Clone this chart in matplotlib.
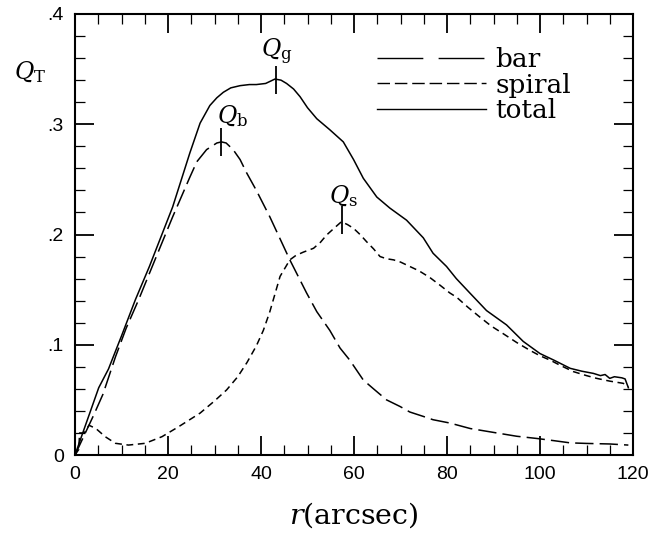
import matplotlib
matplotlib.use("Agg")
import matplotlib.pyplot as plt
from matplotlib.lines import Line2D
from matplotlib.ticker import MultipleLocator, FixedLocator, FixedFormatter

plt.rcParams['mathtext.fontset'] = 'dejavuserif'

# ---- data ----
r_total = [0, 2, 5.1, 7.2, 10, 13, 16, 21, 24.7, 26.9, 29, 30.5, 31.9, 33.5, 35.5, 37.5,
           39, 41, 43, 44.3, 45.5, 47, 48.4, 50, 52, 54.8, 57.7, 59.9, 62, 64.9, 67.7,
           71.3, 74.9, 77, 79.9, 82, 84.9, 88.5, 92.8, 96.4, 100, 103, 106.5, 109, 111.5,
           113, 114, 115, 116, 117.6, 118.3, 119]
q_total = [0, 0.024, 0.061, 0.078, 0.108, 0.141, 0.171, 0.225, 0.274, 0.301, 0.317,
           0.324, 0.329, 0.333, 0.335, 0.336, 0.336, 0.337, 0.341, 0.340, 0.337, 0.332,
           0.325, 0.315, 0.305, 0.295, 0.284, 0.268, 0.251, 0.234, 0.224, 0.213, 0.197,
           0.183, 0.171, 0.160, 0.147, 0.131, 0.118, 0.103, 0.092, 0.086, 0.0786, 0.076,
           0.074, 0.072, 0.073, 0.0695, 0.071, 0.070, 0.069, 0.061]

r_bar = [0, 2, 4, 6, 8.7, 11, 13.7, 17, 21, 24.7, 26.2, 28.3, 30.5, 31.5, 32.5, 34, 35.5,
         36.9, 39, 41.9, 44, 46.2, 49.8, 52, 54.8, 57, 59.1, 62, 64.2, 67, 69.9, 72,
         74.9, 77, 80.6, 85, 90.7, 95, 99.3, 103, 106.5, 110, 115, 119]
q_bar = [0, 0.018, 0.036, 0.055, 0.089, 0.115, 0.141, 0.175, 0.216, 0.252, 0.266, 0.277,
         0.283, 0.284, 0.283, 0.277, 0.268, 0.256, 0.240, 0.216, 0.197, 0.177, 0.147,
         0.130, 0.113, 0.097, 0.086, 0.068, 0.060, 0.050, 0.044, 0.039, 0.035, 0.032,
         0.029, 0.024, 0.020, 0.017, 0.015, 0.013, 0.011, 0.0105, 0.010, 0.009]

r_spiral = [0, 0.8, 1.0, 2.0, 3.0, 4.5, 6.5, 8.7, 11.5, 15.1, 18.7, 22.3, 26.9, 30,
            32.6, 35, 37, 39, 40.5, 41.9, 44.1, 46.2, 47.5, 49.1, 51.3, 52.8, 54.1, 55.8,
            57.3, 58.6, 59.9, 61.3, 62.7, 64.2, 65.6, 67, 68.5, 70, 72, 74, 76.3, 78.5,
            80.6, 82.1, 84.5, 87.1, 89.5, 92.1, 95, 97.8, 100, 102.2, 104.5, 107.2, 110,
            112.2, 115, 117.9, 119]
q_spiral = [0, 0.005, 0.020, 0.020, 0.027, 0.024, 0.0166, 0.0106, 0.009, 0.0106, 0.0166,
            0.0257, 0.038, 0.049, 0.059, 0.071, 0.084, 0.099, 0.113, 0.130, 0.162, 0.177,
            0.181, 0.184, 0.1875, 0.193, 0.1995, 0.206, 0.2116, 0.209, 0.2056, 0.200,
            0.1935, 0.187, 0.180, 0.178, 0.177, 0.175, 0.171, 0.167, 0.161, 0.154, 0.147,
            0.143, 0.134, 0.125, 0.117, 0.110, 0.102, 0.095, 0.090, 0.086, 0.081, 0.0756,
            0.072, 0.0695, 0.067, 0.065, 0.062]

peak_names = [r'$Q_{\rm b}$', r'$Q_{\rm g}$', r'$Q_{\rm s}$']
peak_r = [31.5, 43.3, 57.5]
peak_q = [0.284, 0.340, 0.213]
label_r = [33.9, 43.4, 57.8]
label_q = [0.307, 0.366, 0.235]

xticks = [0, 20, 40, 60, 80, 100, 120]
xtick_labels = ['0', '20', '40', '60', '80', '100', '120']
yticks = [0, 0.1, 0.2, 0.3, 0.4]
ytick_labels = ['0', '.1', '.2', '.3', '.4']

# ---- figure ----
fig = plt.figure(figsize=(6.56, 5.39), dpi=100)
ax = fig.add_axes([75/656, 1 - 455/539, (633-75)/656, (455-14)/539])

lw = 1.1
ax.plot(r_bar, q_bar, color='black', lw=lw, dashes=(12, 4))
ax.plot(r_spiral, q_spiral, color='black', lw=lw, dashes=(4.5, 3))
ax.plot(r_total, q_total, color='black', lw=lw)

ax.vlines(peak_r, [q - 0.0125 for q in peak_q], [q + 0.0125 for q in peak_q],
          color='black', lw=1.3)
for name, x, y in zip(peak_names, label_r, label_q):
    ax.text(x, y, name, fontsize=17, ha='center', va='center')

ax.set_xlim(0, 120)
ax.set_ylim(0, 0.4)
ax.xaxis.set_major_locator(FixedLocator(xticks))
ax.xaxis.set_major_formatter(FixedFormatter(xtick_labels))
ax.xaxis.set_minor_locator(MultipleLocator(5))
ax.yaxis.set_major_locator(FixedLocator(yticks))
ax.yaxis.set_major_formatter(FixedFormatter(ytick_labels))
ax.yaxis.set_minor_locator(MultipleLocator(0.02))
ax.tick_params(which='both', direction='in', top=True, right=True, color='black')
ax.tick_params(which='major', length=14, width=1.3, pad=8, labelsize=14)
ax.tick_params(which='minor', length=7, width=0.9)
for lab in ax.get_xticklabels() + ax.get_yticklabels():
    lab.set_family('Liberation Sans')
for s in ax.spines.values():
    s.set_linewidth(1.5)

ax.set_xlabel(r'$r$(arcsec)', fontsize=20.5, family='DejaVu Serif', labelpad=12)
fig.text(30/656, 1 - 72/539, r'$Q_{\rm T}$', fontsize=17, ha='center', va='center')

handles = [Line2D([], [], color='black', lw=1.0, dashes=(33, 11)),
           Line2D([], [], color='black', lw=1.0, dashes=(9, 3.5)),
           Line2D([], [], color='black', lw=1.0)]
leg = ax.legend(handles, ['bar', 'spiral', 'total'], loc='upper left',
                bbox_to_anchor=(0.517, 0.955), frameon=False,
                handlelength=4.15, handletextpad=0.35, labelspacing=0.02,
                borderpad=0.0, prop={'family': 'DejaVu Serif', 'size': 19})

fig.savefig('out.png', dpi=100)
